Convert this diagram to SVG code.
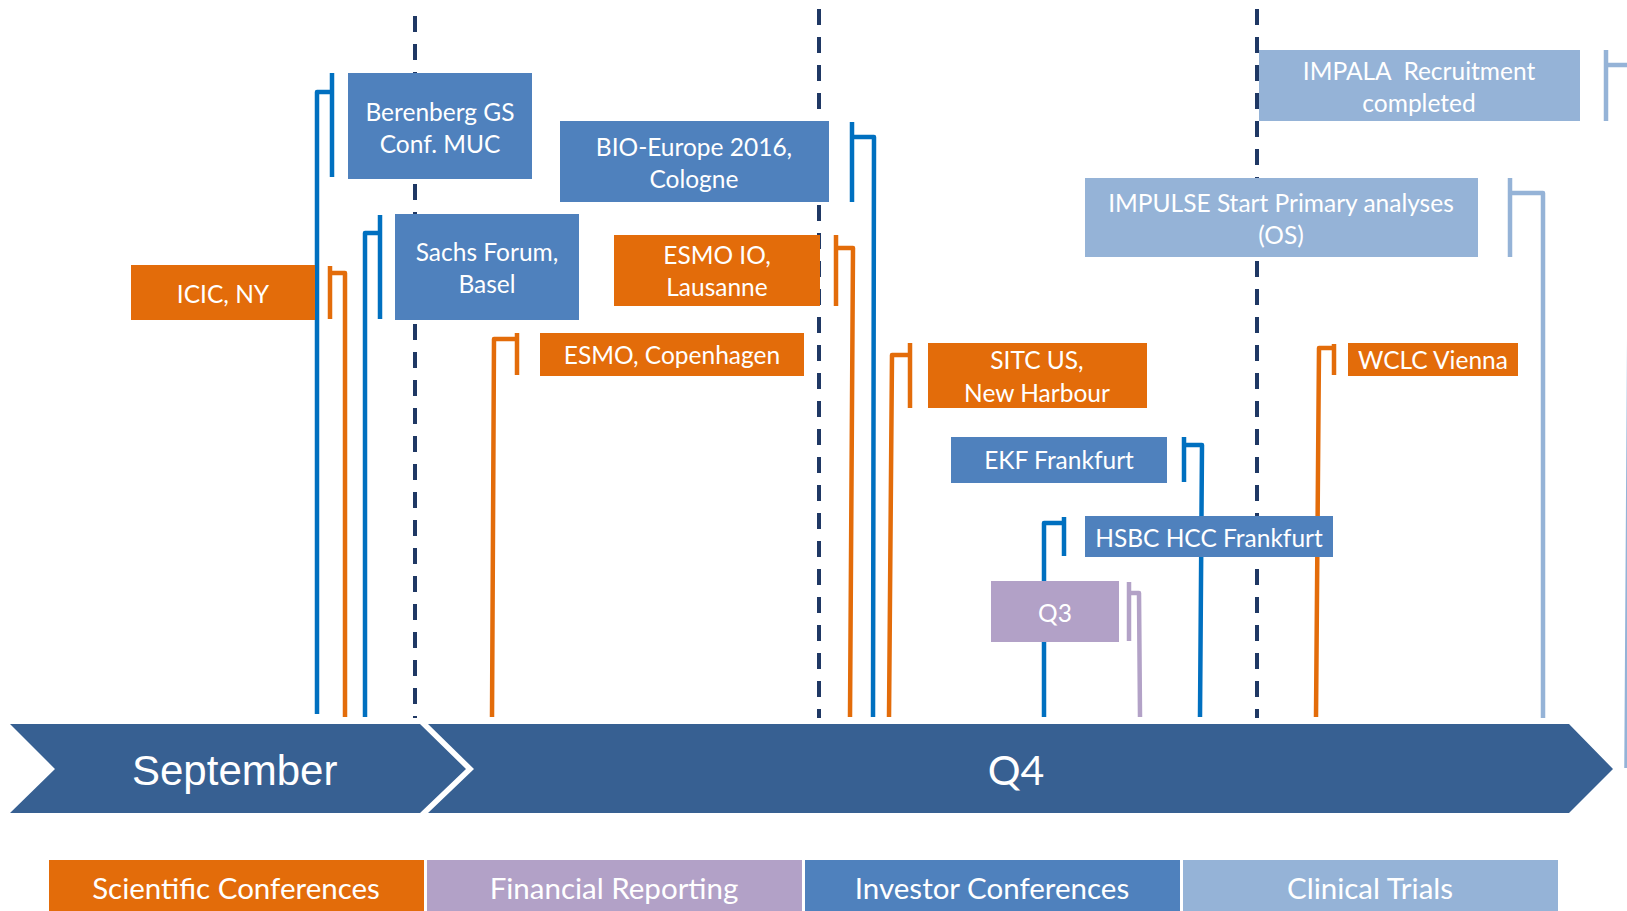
<svg xmlns="http://www.w3.org/2000/svg" width="1627" height="911" viewBox="0 0 1627 911">
<style>
  .bx text, .lg text { font-family: Lato, "Liberation Sans", sans-serif; fill: #fff; text-anchor: middle; }
  .bx text { font-size: 24.5px; }
  .lg text { font-size: 29.5px; }
  .or { fill: #E36C0A; }
  .bl { fill: #4F81BD; }
  .lb { fill: #95B3D7; }
  .pu { fill: #B2A1C7; }
  .div line { stroke: #1F3864; stroke-width: 4; stroke-dasharray: 16 12; }
  .cn path { fill: none; stroke-width: 4.5; stroke-linejoin: round; }
  .c-bl { stroke: #0070C0; }
  .c-or { stroke: #E36C0A; }
  .c-pu { stroke: #B3A2C7; }
  .c-lb { stroke: #95B3D7; }
  .tl { fill: #376092; }
  .tl-text { fill: #fff; font-family: "Liberation Sans", Arial, sans-serif; font-size: 42px; }
  .q4-text { fill: #fff; font-family: Lato, "Liberation Sans", sans-serif; font-size: 41px; text-anchor: middle; }
</style>

<g id="dividers" class="div">
  <line x1="415" y1="16" x2="415" y2="718"/>
  <line x1="819" y1="9" x2="819" y2="718"/>
  <line x1="1257" y1="9" x2="1257" y2="718"/>
</g>

<g id="connectors" class="cn">
  <path class="c-bl" d="M317,714 L317,92 L332,92 M332,73 L332,177"/>
  <path class="c-bl" d="M365,717 L365,233 L380,233 M380,215 L380,319"/>
  <path class="c-or" d="M345,717 L345,273 L330,273 M330,266 L330,319"/>
  <path class="c-or" d="M492,717 L494,339 L517,339 M517,333 L517,375"/>
  <path class="c-bl" d="M873,717 L874,137 L852,137 M852,122 L852,202"/>
  <path class="c-or" d="M850,717 L853,248 L836,248 M836,235 L836,306"/>
  <path class="c-or" d="M889,717 L892,355 L910,355 M910,343 L910,408"/>
  <path class="c-bl" d="M1200,717 L1202,445 L1184,445 M1184,437 L1184,482"/>
  <path class="c-bl" d="M1044,717 L1044,523 L1064,523 M1064,517 L1064,556"/>
  <path class="c-pu" d="M1140,717 L1139,593 L1129,593 M1129,582 L1129,641"/>
  <path class="c-or" d="M1316,717 L1319,348 L1334,348 M1334,344 L1334,375"/>
  <path class="c-lb" d="M1543,718 L1543,193 L1510,193 M1510,178 L1510,257"/>
  <path class="c-lb" d="M1626.5,768 L1631,65 L1606,65 M1606,50 L1606,121"/>
</g>

<g id="timeline">
  <polygon class="tl" points="428,724 1569,724 1613,769 1569,813 428,813 474,769"/>
  <polygon class="tl" points="10,724 420,724 466,769 420,813 10,813 55,769"/>
  <text class="tl-text" x="132" y="785">September</text>
  <text class="q4-text" x="1016" y="785">Q4</text>
</g>

<g class="bx">
  <g id="berenberg"><rect class="bl" x="348" y="73" width="184" height="106"/><text x="440" y="121">Berenberg GS</text><text x="440" y="153">Conf. MUC</text></g>
  <g id="sachs"><rect class="bl" x="395" y="214" width="184" height="106"/><text x="487" y="261">Sachs Forum,</text><text x="487" y="293">Basel</text></g>
  <g id="icic"><rect class="or" x="131" y="265" width="184" height="55"/><text x="223" y="303">ICIC, NY</text></g>
  <g id="bio-europe"><rect class="bl" x="560" y="121" width="269" height="81"/><text x="694" y="156">BIO-Europe 2016,</text><text x="694" y="188">Cologne</text></g>
  <g id="esmo-io"><rect class="or" x="614" y="235" width="206" height="71"/><text x="717" y="264">ESMO IO,</text><text x="717" y="296">Lausanne</text></g>
  <g id="esmo-copenhagen"><rect class="or" x="540" y="333" width="264" height="43"/><text x="672" y="364">ESMO, Copenhagen</text></g>
  <g id="sitc"><rect class="or" x="928" y="343" width="219" height="65"/><text x="1037" y="369">SITC US,</text><text x="1037" y="402">New Harbour</text></g>
  <g id="ekf"><rect class="bl" x="951" y="437" width="216" height="46"/><text x="1059" y="469">EKF Frankfurt</text></g>
  <g id="hsbc"><rect class="bl" x="1085" y="516" width="248" height="41"/><text x="1209" y="547">HSBC HCC Frankfurt</text></g>
  <g id="q3"><rect class="pu" x="991" y="581" width="128" height="61"/><text x="1055" y="622">Q3</text></g>
  <g id="wclc"><rect class="or" x="1348" y="343" width="170" height="33"/><text x="1433" y="369">WCLC Vienna</text></g>
  <g id="impala"><rect class="lb" x="1259" y="50" width="321" height="71"/><text x="1419" y="80" xml:space="preserve">IMPALA  Recruitment</text><text x="1419" y="112">completed</text></g>
  <g id="impulse"><rect class="lb" x="1085" y="178" width="393" height="79"/><text x="1281" y="212">IMPULSE Start Primary analyses</text><text x="1281" y="244">(OS)</text></g>
</g>

<g class="lg" id="legend">
  <g id="lg-scientific"><rect class="or" x="49" y="860" width="375" height="51"/><text x="236" y="899">Scientific Conferences</text></g>
  <g id="lg-financial"><rect class="pu" x="427" y="860" width="375" height="51"/><text x="614" y="899">Financial Reporting</text></g>
  <g id="lg-investor"><rect class="bl" x="805" y="860" width="375" height="51"/><text x="992" y="899">Investor Conferences</text></g>
  <g id="lg-clinical"><rect class="lb" x="1183" y="860" width="375" height="51"/><text x="1370" y="899">Clinical Trials</text></g>
</g>
</svg>
